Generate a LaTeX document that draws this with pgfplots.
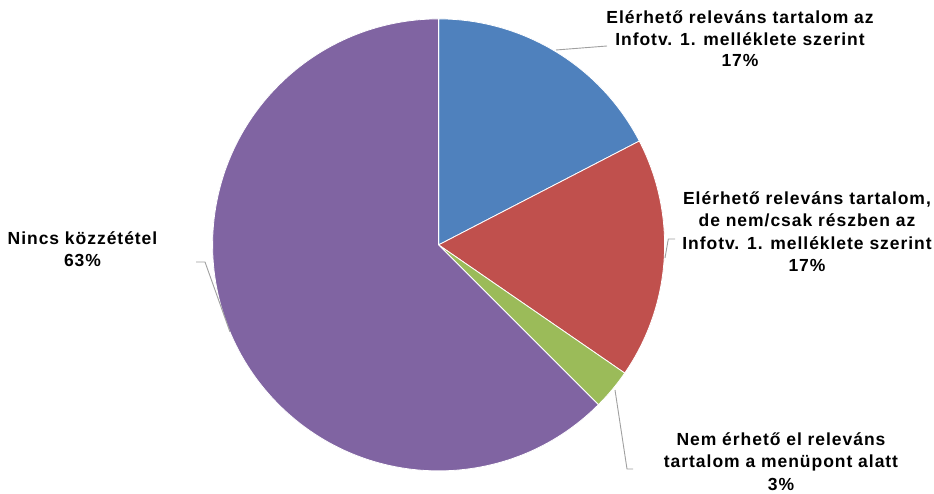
\documentclass[border=0pt]{standalone}
\usepackage{pgfplots}
\usepackage{pgfplotstable}
\pgfplotsset{compat=1.18}
\usepackage{fontspec}
\setmainfont{Liberation Sans}[LetterSpace=5.5]
\definecolor{cBlue}{HTML}{4F81BD}
\definecolor{cRed}{HTML}{C0504D}
\definecolor{cGreen}{HTML}{9BBB59}
\definecolor{cPurple}{HTML}{8064A2}
\definecolor{cLead}{HTML}{A0A0A0}
\pgfplotstableread{
share
17.4
17.2
2.9
62.5
}\piedata
\pgfplotstablegetelem{0}{share}\of\piedata \let\vA\pgfplotsretval
\pgfplotstablegetelem{1}{share}\of\piedata \let\vB\pgfplotsretval
\pgfplotstablegetelem{2}{share}\of\piedata \let\vC\pgfplotsretval
\pgfplotstablegetelem{3}{share}\of\piedata \let\vD\pgfplotsretval
\pgfmathsetmacro\aO{90}
\pgfmathsetmacro\aA{\aO-3.6*\vA}
\pgfmathsetmacro\aB{\aA-3.6*\vB}
\pgfmathsetmacro\aC{\aB-3.6*\vC}
\pgfmathsetmacro\aD{\aC-3.6*\vD}
\begin{document}
\begin{tikzpicture}
\begin{axis}[
  x=1bp, y=1bp,
  xmin=0, xmax=934, ymin=0, ymax=494,
  hide axis, clip=false, scale only axis,
]
\path (axis cs:0,0) rectangle (axis cs:934,494);
% pie: centre (438.6, 249.1), radius 226
\fill[cBlue, draw=white, line width=0.8bp] (axis cs:438.6,249.1) -- ++(\aO:226bp) arc[start angle=\aO, end angle=\aA, radius=226bp] -- cycle;
\fill[cRed, draw=white, line width=0.8bp] (axis cs:438.6,249.1) -- ++(\aA:226bp) arc[start angle=\aA, end angle=\aB, radius=226bp] -- cycle;
\fill[cGreen, draw=white, line width=0.8bp] (axis cs:438.6,249.1) -- ++(\aB:226bp) arc[start angle=\aB, end angle=\aC, radius=226bp] -- cycle;
\fill[cPurple, draw=white, line width=0.8bp] (axis cs:438.6,249.1) -- ++(\aC:226bp) arc[start angle=\aC, end angle=\aD, radius=226bp] -- cycle;
% leader lines
\draw[cLead, line width=0.9bp] (axis cs:556,444) -- (axis cs:607,448);
\draw[cLead, line width=0.9bp] (axis cs:665,236) -- (axis cs:668.3,255) -- (axis cs:675,255);
\draw[cLead, line width=0.9bp] (axis cs:615,104) -- (axis cs:627,25) -- (axis cs:633,25);
\draw[cLead, line width=0.9bp] (axis cs:196,232) -- (axis cs:205,232) -- (axis cs:230,162);
% labels (anchor=base is the baseline of the last line)
\node[anchor=base, inner sep=0pt, align=center, font=\fontsize{17.5bp}{21.5bp}\selectfont\bfseries] at (axis cs:740,427) {Elérhető releváns tartalom az\\Infotv. 1. melléklete szerint\\17\%};
\node[anchor=base, inner sep=0pt, align=center, font=\fontsize{17.5bp}{22.5bp}\selectfont\bfseries] at (axis cs:807,222.3) {Elérhető releváns tartalom,\\de nem/csak részben az\\Infotv. 1. melléklete szerint\\17\%};
\node[anchor=base, inner sep=0pt, align=center, font=\fontsize{17.5bp}{22.5bp}\selectfont\bfseries] at (axis cs:781,3.5) {Nem érhető el releváns\\tartalom a menüpont alatt\\3\%};
\node[anchor=base, inner sep=0pt, align=center, font=\fontsize{17.5bp}{22bp}\selectfont\bfseries] at (axis cs:82.5,227.3) {Nincs közzététel\\63\%};
\end{axis}
\pgfresetboundingbox
\path (current axis.south west) rectangle (current axis.north east);
\end{tikzpicture}
\end{document}
